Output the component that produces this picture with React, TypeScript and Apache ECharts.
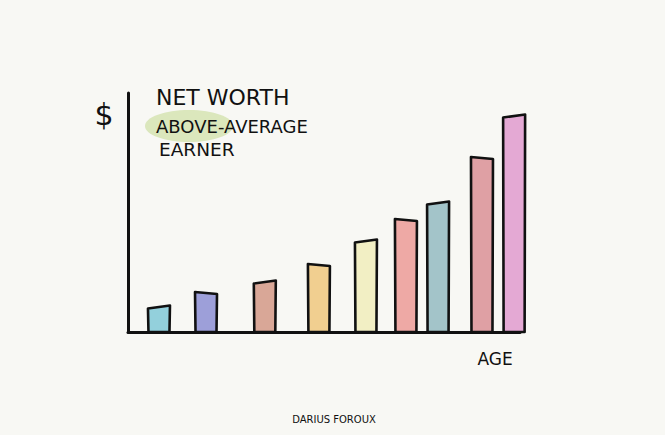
import React, { useEffect, useRef } from "react";
import * as echarts from "echarts";

// Age positions along the x axis (axis units 0..100) and net-worth values (axis units 0..240)
const agePositions = [7.9, 19.9, 34.9, 48.7, 60.7, 70.9, 79.1, 90.3, 98.5];
const netWorth = [25, 39, 50, 67, 91, 112, 129, 174, 216];
const barColors = [
  "#93d0dc",
  "#9d9fd9",
  "#d9a797",
  "#f1cf90",
  "#f2efc4",
  "#eea9a5",
  "#a3c4c9",
  "#dfa0a4",
  "#e4a9d4",
];
const titleLines = ["NET WORTH", "ABOVE-AVERAGE", "EARNER"];
const yLabel = "$";
const xLabel = "AGE";
const signature = "DARIUS FOROUX";

const FONT = "'DejaVu Sans', sans-serif";

export default function App() {
  const ref = useRef<HTMLDivElement>(null);
  useEffect(() => {
    if (!ref.current) return;
    const chart = echarts.init(ref.current, null, { renderer: "svg" });
    const data = agePositions.map((x, i) => [x, netWorth[i], i]);
    chart.setOption({
      animation: false,
      backgroundColor: "#f8f8f4",
      grid: { left: 128, top: 93, width: 392, height: 239 },
      xAxis: {
        type: "value",
        min: 0,
        max: 100,
        axisLine: { show: true, lineStyle: { color: "#111", width: 3, cap: "round" } },
        axisTick: { show: false },
        axisLabel: { show: false },
        splitLine: { show: false },
      },
      yAxis: {
        type: "value",
        min: 0,
        max: 239,
        axisLine: { show: true, lineStyle: { color: "#111", width: 3, cap: "round" } },
        axisTick: { show: false },
        axisLabel: { show: false },
        splitLine: { show: false },
      },
      series: [
        {
          type: "custom",
          z: 3,
          data,
          renderItem: (params: any, api: any) => {
            const x = api.value(0);
            const v = api.value(1);
            const idx = api.value(2);
            const top = api.coord([x, v]);
            const bottom = api.coord([x, 0]);
            const w = 22;
            const tilt = idx % 2 === 0 ? 1.5 : -1;
            return {
              type: "polygon",
              shape: {
                points: [
                  [top[0] - w / 2, top[1] + tilt],
                  [top[0] + w / 2, top[1] - tilt],
                  [bottom[0] + w / 2 - 0.5, bottom[1]],
                  [bottom[0] - w / 2 + 0.5, bottom[1]],
                ],
              },
              style: {
                fill: barColors[idx],
                stroke: "#111",
                lineWidth: 2.6,
                lineJoin: "round",
              },
            };
          },
        },
      ],
      graphic: [
        {
          type: "ellipse",
          shape: { cx: 189, cy: 126, rx: 44, ry: 16 },
          style: { fill: "#d7e4b6", opacity: 0.9 },
          z: 1,
        },
        {
          type: "text",
          x: 104,
          y: 114,
          z: 5,
          style: {
            text: yLabel,
            font: `30px ${FONT}`,
            fill: "#111",
            align: "center",
            verticalAlign: "middle",
          },
        },
        {
          type: "text",
          x: 156,
          y: 97,
          z: 5,
          style: {
            text: titleLines[0],
            font: `22px ${FONT}`,
            fill: "#111",
            align: "left",
            verticalAlign: "middle",
          },
        },
        {
          type: "text",
          x: 156,
          y: 126,
          z: 5,
          style: {
            text: titleLines[1],
            font: `18px ${FONT}`,
            fill: "#111",
            align: "left",
            verticalAlign: "middle",
          },
        },
        {
          type: "text",
          x: 159,
          y: 149,
          z: 5,
          style: {
            text: titleLines[2],
            font: `18.5px ${FONT}`,
            fill: "#111",
            align: "left",
            verticalAlign: "middle",
          },
        },
        {
          type: "text",
          x: 495,
          y: 359,
          z: 5,
          style: {
            text: xLabel,
            font: `17px ${FONT}`,
            fill: "#111",
            align: "center",
            verticalAlign: "middle",
          },
        },
        {
          type: "text",
          x: 334,
          y: 419,
          z: 5,
          style: {
            text: signature,
            font: `10px ${FONT}`,
            fill: "#111",
            align: "center",
            verticalAlign: "middle",
          },
        },
      ],
    });
    return () => chart.dispose();
  }, []);
  return <div ref={ref} style={{ width: 665, height: 435, position: "absolute", left: 0, top: 0 }} />;
}
